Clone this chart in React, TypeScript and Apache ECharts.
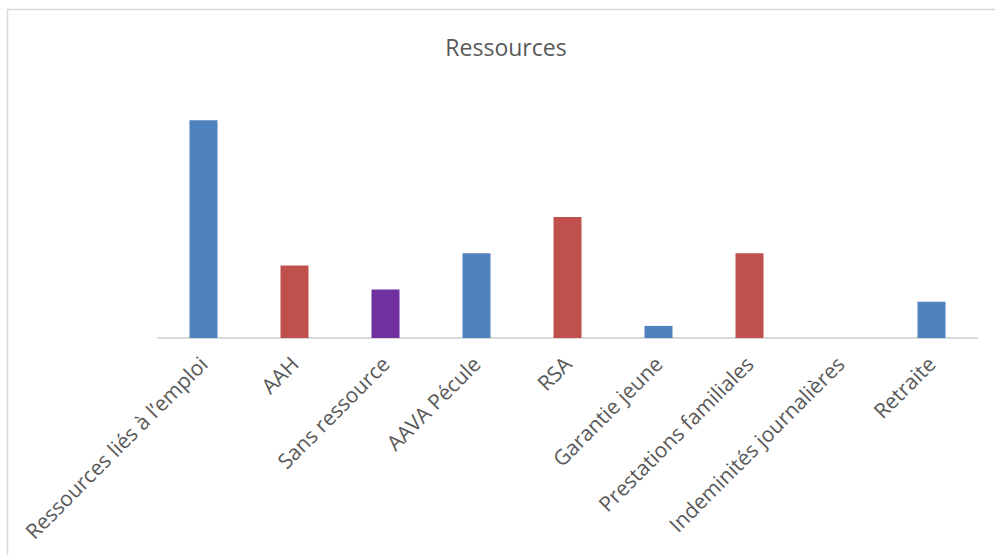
import React, { useEffect, useRef } from "react";
import * as echarts from "echarts";

// Ressources par catégorie
const categories = [
  "Ressources liés à l’emploi",
  "AAH",
  "Sans ressource",
  "AAVA Pécule",
  "RSA",
  "Garantie jeune",
  "Prestations familiales",
  "Indeminités journalières",
  "Retraite",
];
const values = [18, 6, 4, 7, 10, 1, 7, 0, 3];
const barColors = [
  "#4F81BD",
  "#C0504D",
  "#7030A0",
  "#4F81BD",
  "#C0504D",
  "#4F81BD",
  "#C0504D",
  "#4F81BD",
  "#4F81BD",
];

const FONT = "'Open Sans', 'Noto Sans', sans-serif";

export default function App() {
  const ref = useRef<HTMLDivElement>(null);

  useEffect(() => {
    if (!ref.current) return;
    const chart = echarts.init(ref.current, undefined, { renderer: "svg" });
    chart.setOption({
      animation: false,
      backgroundColor: "#ffffff",
      title: {
        text: "Ressources",
        left: 501,
        textAlign: "center",
        top: 30,
        textStyle: {
          fontFamily: FONT,
          fontSize: 23,
          fontWeight: "normal",
          color: "#595959",
        },
      },
      graphic: [
        {
          type: "line",
          shape: { x1: 7, y1: 9.5, x2: 995, y2: 9.5 },
          style: { stroke: "#D9D9D9", lineWidth: 1.5 },
        },
        {
          type: "line",
          shape: { x1: 7.5, y1: 9, x2: 7.5, y2: 555 },
          style: { stroke: "#D9D9D9", lineWidth: 1.5 },
        },
      ],
      grid: { left: 158, right: 18, top: 96, bottom: 221, containLabel: false },
      xAxis: {
        type: "category",
        data: categories,
        axisLine: { show: true, lineStyle: { color: "#D9D9D9", width: 2 } },
        axisTick: { show: false },
        axisLabel: {
          rotate: 45,
          interval: 0,
          margin: 22,
          fontFamily: FONT,
          fontSize: 21,
          color: "#595959",
        },
      },
      yAxis: {
        type: "value",
        min: 0,
        max: 20,
        show: false,
        splitLine: { show: false },
      },
      series: [
        {
          type: "bar",
          barWidth: 28,
          data: values.map((v, i) => ({
            value: v,
            itemStyle: { color: barColors[i] },
          })),
        },
      ],
    });
    return () => chart.dispose();
  }, []);

  return (
    <div
      ref={ref}
      style={{ position: "fixed", left: 0, top: 0, width: 995, height: 559 }}
    />
  );
}
